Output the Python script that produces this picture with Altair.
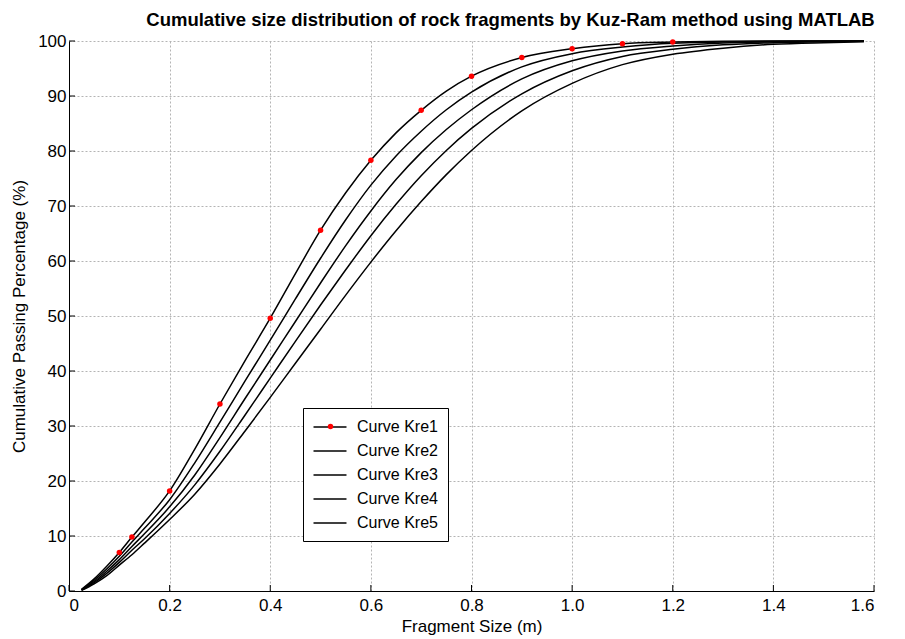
import altair as alt
import pandas as pd

FONT = "Liberation Sans Narrow, Arial Narrow, Liberation Sans, sans-serif"
W, H = 805, 550

# Fragment size (m) sample points
x_vals = [0.025, 0.05, 0.075, 0.1, 0.125, 0.15, 0.2, 0.25, 0.3, 0.35, 0.4, 0.45,
          0.5, 0.55, 0.6, 0.65, 0.7, 0.75, 0.8, 0.9, 1.0, 1.1, 1.2, 1.3, 1.4, 1.5, 1.58]

# Cumulative passing percentage (%)
curve_kre1 = [0.3, 2.2, 4.5, 7.0, 9.8, 12.5, 18.2, 25.8, 34.0, 41.9, 49.6, 57.7,
              65.6, 72.4, 78.3, 83.3, 87.4, 90.9, 93.6, 97.0, 98.6, 99.5, 99.8, 99.95, 100, 100, 100]
curve_kre2 = [0.25, 1.95, 4.0, 6.3, 8.9, 11.4, 16.6, 23.3, 30.7, 38.2, 45.6, 53.1,
              60.5, 67.5, 73.8, 79.1, 83.6, 87.5, 90.7, 95.3, 97.7, 98.9, 99.6, 99.8, 99.95, 100, 100]
curve_kre3 = [0.2, 1.7, 3.6, 5.7, 8.1, 10.4, 15.3, 21.1, 27.9, 35.0, 42.0, 49.0,
              56.0, 62.8, 69.1, 74.8, 79.7, 83.9, 87.5, 93.1, 96.4, 98.2, 99.1, 99.65, 99.85, 99.95, 100]
curve_kre4 = [0.15, 1.5, 3.2, 5.2, 7.4, 9.5, 14.1, 19.3, 25.4, 32.0, 38.7, 45.4,
              52.0, 58.4, 64.6, 70.3, 75.5, 80.1, 84.1, 90.4, 94.6, 97.2, 98.5, 99.3, 99.7, 99.85, 99.95]
curve_kre5 = [0.1, 1.3, 2.8, 4.7, 6.6, 8.7, 13.0, 17.6, 23.1, 29.1, 35.2, 41.4,
              47.6, 53.8, 59.8, 65.5, 70.8, 75.7, 80.1, 87.3, 92.3, 95.7, 97.6, 98.7, 99.4, 99.7, 99.85]

series_names = ["Curve Kre1", "Curve Kre2", "Curve Kre3", "Curve Kre4", "Curve Kre5"]
curves = [curve_kre1, curve_kre2, curve_kre3, curve_kre4, curve_kre5]

# x positions of the red markers on Curve Kre1
marker_x = [0.1, 0.125, 0.2, 0.3, 0.4, 0.5, 0.6, 0.7, 0.8, 0.9, 1.0, 1.1, 1.2]

x_ticks = [0, 0.2, 0.4, 0.6, 0.8, 1.0, 1.2, 1.4, 1.6]
y_ticks = [0, 10, 20, 30, 40, 50, 60, 70, 80, 90, 100]

rows = []
for name, ys in zip(series_names, curves):
    for xv, yv in zip(x_vals, ys):
        rows.append({"size": xv, "pct": yv, "series": name})
df = pd.DataFrame(rows)
mk = df[(df["series"] == "Curve Kre1") & (df["size"].isin(marker_x))].copy()
mk["marker"] = "Curve Kre1"

xt = pd.DataFrame({"size": x_ticks})
yt = pd.DataFrame({"pct": y_ticks})

x_scale = alt.Scale(domain=[0, 1.6], nice=False)
y_scale = alt.Scale(domain=[0, 100], nice=False)

x_enc = alt.X("size:Q", scale=x_scale,
              axis=alt.Axis(values=x_ticks, title="Fragment Size (m)",
                            labelExpr="datum.value == 0 ? '0' : format(datum.value, '.1f')"))
y_enc = alt.Y("pct:Q", scale=y_scale,
              axis=alt.Axis(values=y_ticks, title="Cumulative Passing Percentage (%)", format="d"))

lines = alt.Chart(df).mark_line(interpolate="monotone", strokeWidth=1.5).encode(
    x=x_enc, y=y_enc,
    color=alt.Color("series:N", scale=alt.Scale(domain=series_names, range=["black"] * 5),
                    legend=alt.Legend(title=None, orient="none", legendX=234, legendY=367,
                                      symbolType="M-2,0H2", symbolSize=272, symbolStrokeWidth=1.5,
                                      symbolOffset=8, labelOffset=18,
                                      labelFont=FONT, labelFontSize=16, labelColor="black",
                                      strokeColor="black", fillColor="white", padding=10,
                                      rowPadding=7, labelLimit=300)),
    order="size:Q",
)

dots = alt.Chart(mk).mark_circle(size=30, opacity=1).encode(
    x="size:Q", y="pct:Q",
    fill=alt.Fill("marker:N", scale=alt.Scale(domain=["Curve Kre1"], range=["#ff0000"]),
                  legend=alt.Legend(title=None, orient="none", legendX=258, legendY=382,
                                    symbolType="circle", symbolSize=30, padding=0,
                                    labelExpr="''", labelFontSize=6)),
)

# inward tick marks (MATLAB style)
xticks_in = alt.Chart(xt).mark_rule(color="black", strokeWidth=1).encode(
    x=alt.X("size:Q", scale=x_scale), y=alt.value(H), y2=alt.value(H - 6))
yticks_in = alt.Chart(yt).mark_rule(color="black", strokeWidth=1).encode(
    y=alt.Y("pct:Q", scale=y_scale), x=alt.value(0), x2=alt.value(6))

chart = alt.layer(lines, dots, xticks_in, yticks_in).resolve_legend(
    color="independent", fill="independent").properties(
    width=W, height=H,
    padding={"left": 2, "top": 2, "right": 5, "bottom": 12},
    title=alt.Title("Cumulative size distribution of rock fragments by Kuz-Ram method using MATLAB",
                    font=FONT, fontSize=18.5, fontWeight="bold", color="black", dx=39, offset=3),
).configure_view(stroke=None).configure_axis(
    labelFont=FONT, labelFontSize=17, labelColor="black",
    titleFont=FONT, titleFontSize=17, titleFontWeight="normal", titleColor="black",
    domainColor="black", domainWidth=1, ticks=False,
    grid=True, gridColor="#b4b4b4", gridDash=[2, 2], gridWidth=1,
).configure_axisX(labelPadding=6, titlePadding=5).configure_axisY(labelPadding=3, titlePadding=9)

chart.save("out.html", embed_options={"renderer": "svg", "actions": False})
